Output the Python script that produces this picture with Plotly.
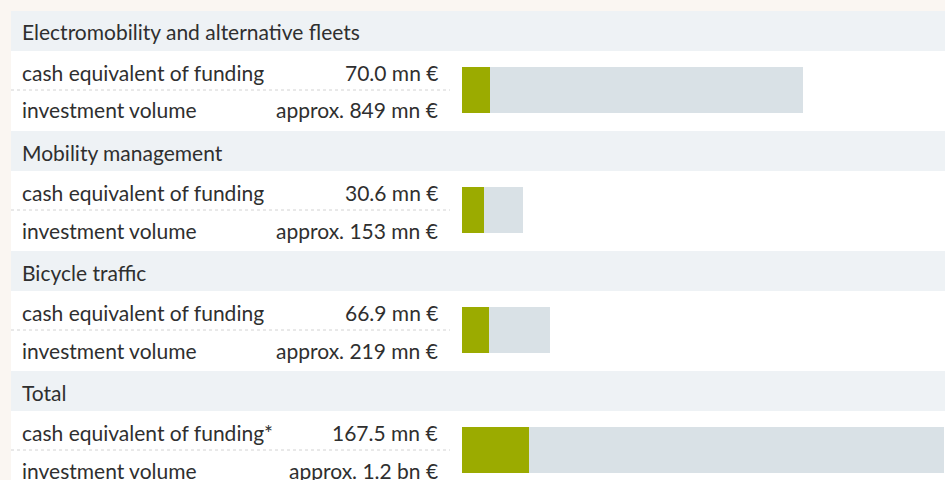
import plotly.graph_objects as go

W, H = 945, 480

# ---- data ----
sections = ["Electromobility and alternative fleets", "Mobility management",
            "Bicycle traffic", "Total"]
funding_labels = ["cash equivalent of funding", "cash equivalent of funding",
                  "cash equivalent of funding", "cash equivalent of funding*"]
investment_labels = ["investment volume"] * 4
funding_text = ["70.0 mn €", "30.6 mn €", "66.9 mn €", "167.5 mn €"]
investment_text = ["approx. 849 mn €", "approx. 153 mn €", "approx. 219 mn €", "approx. 1.2 bn €"]
# bar lengths (mn €) as drawn in the picture
funding_bar = [70.0, 54.0, 66.9, 167.5]
investment_bar = [849, 153, 219, 1200]

# ---- style ----
FONT = "Lato"
TXT = "#2f2f2f"
PAGE = "#faf6f2"
HEAD = "#eef2f5"
GREEN = "#9bab00"
GREY = "#d9e1e6"
FS = 21

def px(x):
    return x / W

def py(y):
    return 1 - y / H

fig = go.Figure()

fig.add_trace(go.Bar(y=sections, x=investment_bar, orientation="h",
                     marker=dict(color=GREY, line=dict(width=0)),
                     width=46 / 120, hoverinfo="skip", showlegend=False))
fig.add_trace(go.Bar(y=sections, x=funding_bar, orientation="h",
                     marker=dict(color=GREEN, line=dict(width=0)),
                     width=46 / 120, hoverinfo="skip", showlegend=False))

shapes = [dict(type="rect", xref="paper", yref="paper", x0=px(11), x1=1,
               y0=0, y1=py(11), fillcolor="white", line=dict(width=0), layer="below")]
annotations = []
for i, name in enumerate(sections):
    top = 11 + 120 * i
    shapes.append(dict(type="rect", xref="paper", yref="paper", x0=px(11), x1=1,
                       y0=py(top + 40), y1=py(top), fillcolor=HEAD,
                       line=dict(width=0), layer="below"))
    shapes.append(dict(type="line", xref="paper", yref="paper", x0=px(11), x1=px(450),
                       y0=py(top + 79), y1=py(top + 79),
                       line=dict(color="#d2d2d2", width=1, dash="dot"), layer="below"))
    rows = [(name, None, top + 21),
            (funding_labels[i], funding_text[i], top + 61),
            (investment_labels[i], investment_text[i], top + 99)]
    for lab, val, yc in rows:
        annotations.append(dict(xref="paper", yref="paper", x=px(20), y=py(yc),
                                text=lab, showarrow=False, xanchor="left", yanchor="middle",
                                font=dict(family=FONT, size=FS, color=TXT)))
        if val:
            annotations.append(dict(xref="paper", yref="paper", x=px(440), y=py(yc),
                                    text=val, showarrow=False, xanchor="right", yanchor="middle",
                                    font=dict(family=FONT, size=FS, color=TXT)))

fig.update_layout(
    width=W, height=H, margin=dict(l=0, r=0, t=0, b=0),
    paper_bgcolor=PAGE, plot_bgcolor="rgba(0,0,0,0)",
    barmode="overlay", bargap=0,
    xaxis=dict(domain=[px(462), 1], range=[0, 1203], visible=False, fixedrange=True),
    yaxis=dict(domain=[0, 1], type="category", categoryorder="array",
               categoryarray=sections, range=[3.25, -0.75], visible=False, fixedrange=True),
    shapes=shapes, annotations=annotations,
)

fig.write_html("out.html", config={"displayModeBar": False},
               post_script="document.body.style.margin='0';document.body.style.overflow='hidden';")
